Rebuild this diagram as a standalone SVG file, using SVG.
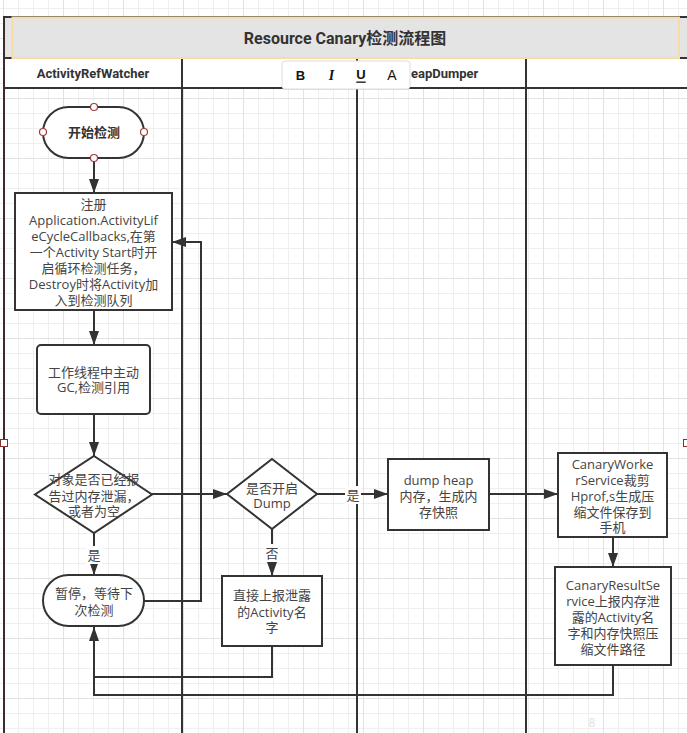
<svg xmlns="http://www.w3.org/2000/svg" width="687" height="733" viewBox="0 0 687 733">
<defs>
<pattern id="grid" patternUnits="userSpaceOnUse" x="3" y="38" width="60" height="60">
<path d="M15.5,0V60M30.5,0V60M45.5,0V60M0,15.5H60M0,30.5H60M0,45.5H60" stroke="#efefef" stroke-width="1" fill="none"/>
<path d="M0.5,0V60M0,0.5H60" stroke="#e2e2e2" stroke-width="1" fill="none"/>
</pattern>
<marker id="arr" markerUnits="userSpaceOnUse" markerWidth="16" markerHeight="12" refX="14" refY="5" orient="auto">
<path d="M0,0L14,5L0,10z" fill="#333"/>
</marker>
</defs>
<style>
.n{fill:#fff;stroke:#333;stroke-width:2}
.t{font-family:"Open Sans","Noto Sans CJK SC",sans-serif;font-size:13px;fill:#444;text-anchor:middle;dominant-baseline:central}
.h{font-family:Roboto,"Liberation Sans","Noto Sans CJK SC",sans-serif;font-size:13px;font-weight:bold;fill:#333;dominant-baseline:central}
.e{fill:none;stroke:#333;stroke-width:2}
.lb{fill:#fff}
.cp{fill:#fff;stroke:#a33b3b;stroke-width:1.2}
.tb{font-family:"Liberation Sans",Arial,sans-serif;fill:#111;text-anchor:middle;dominant-baseline:central}
</style>
<rect width="687" height="733" fill="#fff"/>
<rect width="687" height="733" fill="url(#grid)"/>

<g id="pool">
<rect x="4" y="17" width="683" height="41" fill="#e4e4e4"/>
<rect x="4" y="58" width="683" height="30" fill="#fff"/>
<path d="M4,17H687M4,58H687M4,88H687" stroke="#333" stroke-width="2" fill="none"/>
<path d="M182,58V733M357,58V733M526,58V733" stroke="#333" stroke-width="2" fill="none"/>
<path d="M4,16V733" stroke="#3e2c2c" stroke-width="2" fill="none"/>
<rect x="12.5" y="17.5" width="666.5" height="40.5" fill="none" stroke="#f7dca6" stroke-width="2"/>
<text class="h" x="345" y="38" text-anchor="middle" style="font-size:16px">Resource Canary检测流程图</text>
<text class="h" x="93" y="73" text-anchor="middle">ActivityRefWatcher</text>
<text class="h" x="411" y="73" text-anchor="start">eapDumper</text>
<rect x="0.5" y="439.5" width="7" height="7" fill="#fff" stroke="#8b2e2e" stroke-width="1"/>
<rect x="683.5" y="439.5" width="7" height="7" fill="#fff" stroke="#8b2e2e" stroke-width="1"/>
</g>

<g id="connectors">
<path class="e" d="M94,158V193" marker-end="url(#arr)"/>
<path class="e" d="M94,310V345" marker-end="url(#arr)"/>
<path class="e" d="M94,414V456" marker-end="url(#arr)"/>
<path class="e" d="M152,494H227" marker-end="url(#arr)"/>
<path class="e" d="M94,533V575" marker-end="url(#arr)"/>
<rect class="lb" x="86" y="546" width="16" height="18"/>
<text class="t" x="94" y="555">是</text>
<path class="e" d="M317,494H388" marker-end="url(#arr)"/>
<rect class="lb" x="345" y="486" width="16" height="18"/>
<text class="t" x="353" y="495">是</text>
<path class="e" d="M272,529V576" marker-end="url(#arr)"/>
<rect class="lb" x="264" y="544" width="16" height="18"/>
<text class="t" x="272" y="553">否</text>
<path class="e" d="M489,494H558" marker-end="url(#arr)"/>
<path class="e" d="M613,537V567" marker-end="url(#arr)"/>
<path class="e" d="M613,665V695H94V627" marker-end="url(#arr)"/>
<path class="e" d="M272,646V677H94"/>
<path class="e" d="M144,601H201V242H172" marker-end="url(#arr)"/>
</g>

<g id="start">
<rect class="n" x="43" y="107" width="101" height="51" rx="25.5"/>
<text class="t" x="94" y="132" style="font-weight:bold;fill:#333">开始检测</text>
<circle class="cp" cx="94" cy="107" r="3.5"/>
<circle class="cp" cx="43" cy="132" r="3.5"/>
<circle class="cp" cx="144" cy="132" r="3.5"/>
<circle class="cp" cx="94" cy="158" r="3.5"/>
</g>

<g id="register">
<rect class="n" x="15" y="193" width="157" height="117"/>
<text class="t" x="93.5" y="204">注册</text>
<text class="t" x="93.5" y="220">Application.ActivityLif</text>
<text class="t" x="93.5" y="236">eCycleCallbacks,在第</text>
<text class="t" x="93.5" y="252">一个Activity Start时开</text>
<text class="t" x="93.5" y="268">启循环检测任务，</text>
<text class="t" x="93.5" y="284">Destroy时将Activity加</text>
<text class="t" x="93.5" y="300">入到检测队列</text>
</g>

<g id="gc">
<rect class="n" x="37" y="345" width="113" height="69" rx="4"/>
<text class="t" x="93.5" y="371.5">工作线程中主动</text>
<text class="t" x="93.5" y="387">GC,检测引用</text>
</g>

<g id="check">
<path class="n" d="M94,456L152,494.5L94,533L35,494.5Z"/>
<text class="t" x="94" y="479">对象是否已经报</text>
<text class="t" x="94" y="495.5">告过内存泄漏，</text>
<text class="t" x="94" y="511">或者为空</text>
</g>

<g id="pause">
<rect class="n" x="43" y="575" width="101" height="51" rx="25.5"/>
<text class="t" x="94" y="592.5">暂停，等待下</text>
<text class="t" x="94" y="609.5">次检测</text>
</g>

<g id="dumpcheck">
<path class="n" d="M272,459L317,494L272,529L227,494Z"/>
<text class="t" x="272" y="488">是否开启</text>
<text class="t" x="272" y="503">Dump</text>
</g>

<g id="report">
<rect class="n" x="222" y="576" width="100" height="70"/>
<text class="t" x="272" y="595">直接上报泄露</text>
<text class="t" x="272" y="611.5">的Activity名</text>
<text class="t" x="272" y="627">字</text>
</g>

<g id="dump">
<rect class="n" x="388" y="459" width="101" height="71"/>
<text class="t" x="438.5" y="480">dump heap</text>
<text class="t" x="438.5" y="496">内存，生成内</text>
<text class="t" x="438.5" y="512">存快照</text>
</g>

<g id="worker">
<rect class="n" x="558" y="453" width="109" height="84"/>
<text class="t" x="612.5" y="463.5">CanaryWorke</text>
<text class="t" x="612.5" y="480">rService裁剪</text>
<text class="t" x="612.5" y="496">Hprof,s生成压</text>
<text class="t" x="612.5" y="511.5">缩文件保存到</text>
<text class="t" x="612.5" y="527">手机</text>
</g>

<g id="result">
<rect class="n" x="555" y="567" width="116" height="98"/>
<text class="t" x="613" y="584.5">CanaryResultSe</text>
<text class="t" x="613" y="601">rvice上报内存泄</text>
<text class="t" x="613" y="617">露的Activity名</text>
<text class="t" x="613" y="632.5">字和内存快照压</text>
<text class="t" x="613" y="648.5">缩文件路径</text>
</g>

<text x="592" y="722" font-family="'Open Sans',sans-serif" font-size="12" fill="#e2e2e2" text-anchor="middle" dominant-baseline="central">8</text>

<g id="toolbar">
<rect x="282" y="62" width="128" height="28" rx="3" fill="#000" fill-opacity="0.12"/>
<rect x="282" y="61" width="128" height="28" rx="3" fill="#fff" stroke="#dcdcdc" stroke-width="1"/>
<text class="tb" x="300.5" y="75" font-size="13" font-weight="bold">B</text>
<text class="tb" x="331.5" y="75" font-size="14" font-weight="bold" font-style="italic" style="font-family:'Liberation Serif',serif">I</text>
<text class="tb" x="361" y="74" font-size="13" font-weight="bold" text-decoration="underline">U</text>
<text class="tb" x="392" y="75" font-size="14">A</text>
</g>
</svg>
